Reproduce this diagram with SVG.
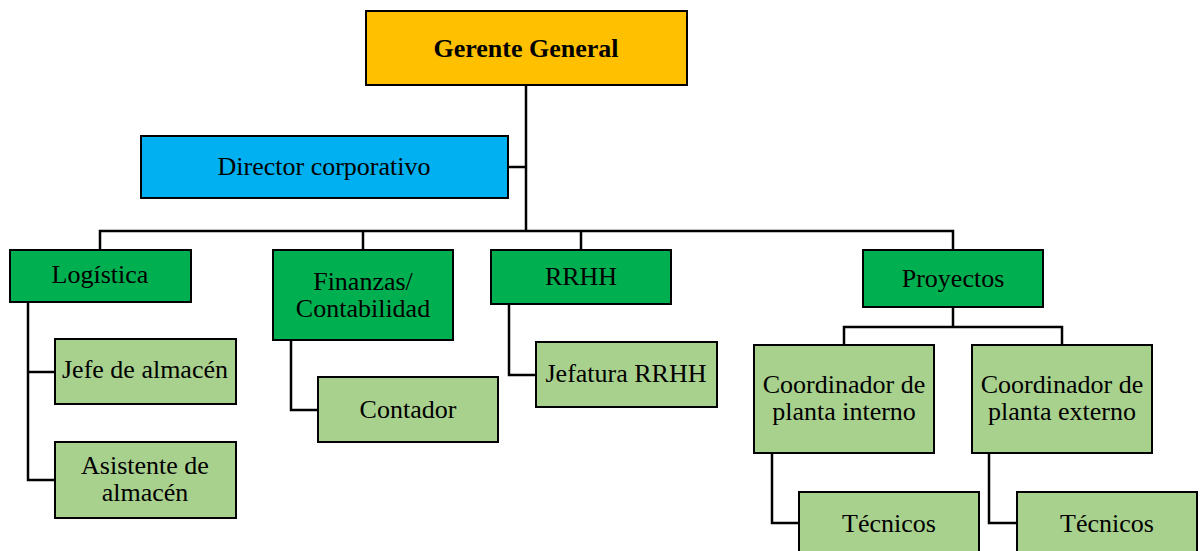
<svg xmlns="http://www.w3.org/2000/svg" width="1202" height="551" viewBox="0 0 1202 551">
  <style>
    .box { stroke: #000; stroke-width: 2; }
    .top { fill: #FFC000; }
    .dir { fill: #00B0F0; }
    .area { fill: #00B050; }
    .sub { fill: #A9D18E; }
    .lbl { font-family: "Liberation Serif", "Times New Roman", serif; font-size: 26px; fill: #000; text-anchor: middle; }
    .bold { font-weight: bold; }
    .wire { fill: none; stroke: #000; stroke-width: 2.5; }
  </style>

  <!-- connectors -->
  <g id="connectors" class="wire">
    <path d="M526,85 V231"/>
    <path d="M508,167 H526"/>
    <path d="M100,250 V231 H953 V250"/>
    <path d="M363,231 V250"/>
    <path d="M581,231 V250"/>
    <path d="M28,302 V480 H55"/>
    <path d="M28,372 H55"/>
    <path d="M291,340 V410 H318"/>
    <path d="M509,304 V375 H536"/>
    <path d="M953,307 V327"/>
    <path d="M844,345 V327 H1062 V345"/>
    <path d="M772,453 V523 H799"/>
    <path d="M989,453 V523 H1017"/>
  </g>

  <g id="gerente">
    <rect class="box top" x="366" y="11" width="321" height="74"/>
    <text class="lbl bold" x="526" y="57">Gerente General</text>
  </g>

  <g id="director">
    <rect class="box dir" x="141" y="136" width="367" height="62"/>
    <text class="lbl" x="324" y="175">Director corporativo</text>
  </g>

  <g id="logistica">
    <rect class="box area" x="10" y="250" width="181" height="52"/>
    <text class="lbl" x="100" y="283">Logística</text>
  </g>

  <g id="jefe-almacen">
    <rect class="box sub" x="55" y="339" width="181" height="65"/>
    <text class="lbl" x="145" y="378">Jefe de almacén</text>
  </g>

  <g id="asistente-almacen">
    <rect class="box sub" x="55" y="442" width="181" height="76"/>
    <text class="lbl" x="145" y="474">Asistente de</text>
    <text class="lbl" x="145" y="501">almacén</text>
  </g>

  <g id="finanzas">
    <rect class="box area" x="273" y="250" width="180" height="90"/>
    <text class="lbl" x="363" y="290">Finanzas/</text>
    <text class="lbl" x="363" y="317">Contabilidad</text>
  </g>

  <g id="contador">
    <rect class="box sub" x="318" y="377" width="180" height="65"/>
    <text class="lbl" x="408" y="418">Contador</text>
  </g>

  <g id="rrhh">
    <rect class="box area" x="491" y="250" width="180" height="54"/>
    <text class="lbl" x="581" y="285">RRHH</text>
  </g>

  <g id="jefatura-rrhh">
    <rect class="box sub" x="536" y="342" width="181" height="65"/>
    <text class="lbl" x="626" y="382">Jefatura RRHH</text>
  </g>

  <g id="proyectos">
    <rect class="box area" x="863" y="250" width="180" height="57"/>
    <text class="lbl" x="953" y="287">Proyectos</text>
  </g>

  <g id="coord-interno">
    <rect class="box sub" x="754" y="345" width="180" height="108"/>
    <text class="lbl" x="844" y="393">Coordinador de</text>
    <text class="lbl" x="844" y="420">planta interno</text>
  </g>

  <g id="coord-externo">
    <rect class="box sub" x="972" y="345" width="180" height="108"/>
    <text class="lbl" x="1062" y="393">Coordinador de</text>
    <text class="lbl" x="1062" y="420">planta externo</text>
  </g>

  <g id="tecnicos-interno">
    <rect class="box sub" x="799" y="492" width="180" height="70"/>
    <text class="lbl" x="889" y="532">Técnicos</text>
  </g>

  <g id="tecnicos-externo">
    <rect class="box sub" x="1017" y="492" width="180" height="70"/>
    <text class="lbl" x="1107" y="532">Técnicos</text>
  </g>
</svg>
